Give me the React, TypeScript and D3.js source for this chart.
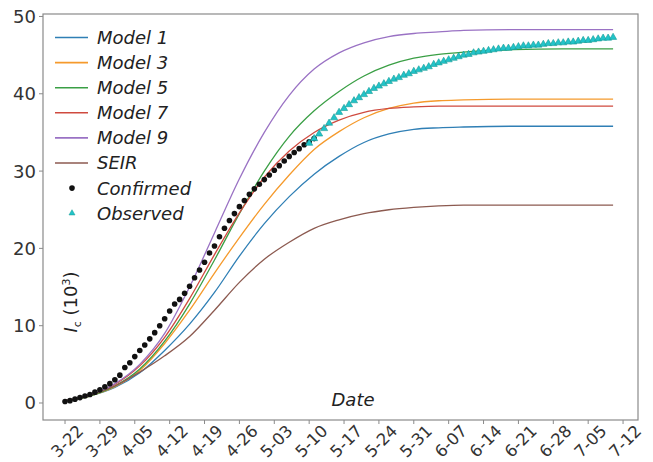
import React from "react";
import * as d3 from "d3";

// sample days (since 3-22) for the model curves
const sampleDays = [0, 5, 10, 15, 20, 25, 30, 35, 40, 45, 50, 55, 60, 65, 70, 75, 80, 90, 100, 110];

const model1 = [0.3, 0.9, 2.0, 3.9, 6.8, 10.2, 14.3, 19.0, 23.2, 26.7, 29.6, 31.9, 33.7, 34.8, 35.4, 35.6, 35.7, 35.8, 35.8, 35.8];
const model3 = [0.3, 0.9, 2.1, 4.2, 7.7, 12.0, 16.8, 21.4, 25.7, 29.5, 32.8, 35.1, 36.9, 38.1, 38.8, 39.1, 39.2, 39.3, 39.3, 39.3];
const model5 = [0.3, 0.9, 2.2, 4.4, 8.0, 12.8, 18.5, 24.5, 30.0, 34.5, 37.8, 40.3, 42.3, 43.7, 44.6, 45.1, 45.4, 45.7, 45.8, 45.8];
const model7 = [0.3, 1.0, 2.4, 4.8, 8.5, 13.5, 19.2, 24.6, 29.2, 32.6, 35.0, 36.6, 37.6, 38.1, 38.3, 38.4, 38.4, 38.4, 38.4, 38.4];
const model9 = [0.3, 1.0, 2.5, 5.0, 9.0, 15.0, 22.0, 29.0, 35.0, 39.8, 43.2, 45.3, 46.6, 47.4, 47.8, 48.0, 48.2, 48.3, 48.3, 48.3];
const seir = [0.3, 1.0, 2.2, 4.0, 6.1, 8.6, 12.0, 15.6, 18.6, 20.8, 22.6, 23.7, 24.5, 25.0, 25.3, 25.5, 25.6, 25.6, 25.6, 25.6];

// confirmed, daily from 3-22
const confirmed = [
  0.2, 0.3, 0.5, 0.7, 0.9, 1.1, 1.4, 1.7, 2.1, 2.5, 3.0, 3.6, 4.6, 5.2, 6.0, 6.8, 7.5, 8.3, 9.1, 10.0,
  10.9, 11.9, 12.8, 13.4, 14.2, 15.1, 16.2, 17.2, 18.2, 19.4, 20.3, 21.5, 22.6, 23.6, 24.5, 25.4, 26.2,
  27.0, 27.7, 28.3, 28.9, 29.5, 30.1, 30.7, 31.3, 31.9, 32.4, 32.9, 33.4, 33.8, 34.2,
];

// observed, daily from day 49
const observedStart = 49;
const observed = [
  33.6, 34.2, 34.8, 35.5, 36.2, 36.9, 37.6, 38.1, 38.6, 39.1, 39.5, 39.9, 40.3, 40.7, 41.0, 41.3, 41.6,
  41.9, 42.1, 42.4, 42.6, 42.9, 43.1, 43.3, 43.5, 43.8, 44.0, 44.2, 44.4, 44.6, 44.8, 45.0, 45.1, 45.3,
  45.4, 45.5, 45.6, 45.7, 45.8, 45.9, 45.9, 46.0, 46.1, 46.2, 46.2, 46.3, 46.3, 46.4, 46.5, 46.5, 46.6,
  46.6, 46.7, 46.7, 46.8, 46.9, 46.9, 47.0, 47.1, 47.2, 47.2, 47.3,
];

const dateLabels = ["3-22", "3-29", "4-05", "4-12", "4-19", "4-26", "5-03", "5-10", "5-17", "5-24", "5-31", "6-07", "6-14", "6-21", "6-28", "7-05", "7-12"];
const yTicks = [0, 10, 20, 30, 40, 50];

const models = [
  { name: "Model 1", values: model1, color: "#2f7fb5" },
  { name: "Model 3", values: model3, color: "#f59a2c" },
  { name: "Model 5", values: model5, color: "#3a9f45" },
  { name: "Model 7", values: model7, color: "#cf4a3f" },
  { name: "Model 9", values: model9, color: "#9a72c4" },
  { name: "SEIR", values: seir, color: "#8c5a50" },
];

const W = 653;
const H = 462;
const left = 43, right = 638, top = 14, bottom = 420;
const font = "'DejaVu Sans', sans-serif";

export default function App() {
  const x = d3.scaleLinear().domain([-4.42, 115]).range([left, right]);
  const y = d3.scaleLinear().domain([-2.2, 50.32]).range([bottom, top]);

  const line = d3
    .line<[number, number]>()
    .x((d) => x(d[0]))
    .y((d) => y(d[1]))
    .curve(d3.curveMonotoneX);

  const tri = d3.symbol().type(d3.symbolTriangle).size(22)();
  const triLegend = d3.symbol().type(d3.symbolTriangle).size(16)();

  return (
    <svg width={W} height={H} style={{ position: "absolute", left: 0, top: 0, background: "#fff" }} fontFamily={font}>
      <rect x={0} y={0} width={W} height={H} fill="#fff" />

      {/* model curves */}
      {models.map((m) => (
        <path
          key={m.name}
          d={line(sampleDays.map((d, i) => [d, m.values[i]]))!}
          fill="none"
          stroke={m.color}
          strokeWidth={1.3}
        />
      ))}

      {/* confirmed */}
      {confirmed.map((v, i) => (
        <circle key={"c" + i} cx={x(i)} cy={y(v)} r={2.8} fill="#111" />
      ))}

      {/* observed */}
      {observed.map((v, i) => (
        <path key={"o" + i} d={tri!} transform={`translate(${x(observedStart + i)},${y(v)})`} fill="#22c3c9" stroke="#179c95" strokeWidth={0.6} />
      ))}

      {/* frame */}
      <rect x={left} y={top} width={right - left} height={bottom - top} fill="none" stroke="#8a8a8a" strokeWidth={1.2} />

      {/* y axis */}
      {yTicks.map((t) => (
        <g key={"y" + t}>
          <line x1={left - 4} x2={left} y1={y(t)} y2={y(t)} stroke="#8a8a8a" />
          <text x={left - 7} y={y(t)} dy="0.36em" textAnchor="end" fontSize={18} fill="#333">
            {t}
          </text>
        </g>
      ))}

      {/* x axis */}
      {dateLabels.map((lab, i) => (
        <g key={"x" + lab}>
          <line x1={x(i * 7)} x2={x(i * 7)} y1={bottom} y2={bottom + 4} stroke="#8a8a8a" />
          <text
            transform={`translate(${x(i * 7) + 2},${bottom + 21}) rotate(-45)`}
            textAnchor="middle"
            dy="0.36em"
            fontSize={16.5}
            fill="#333"
          >
            {lab}
          </text>
        </g>
      ))}

      {/* axis titles */}
      <text x={353} y={406} textAnchor="middle" fontSize={18} fontStyle="italic" fill="#222">
        Date
      </text>
      <text transform={`translate(77,302) rotate(-90)`} textAnchor="middle" fontSize={18} fill="#222">
        <tspan fontStyle="italic">I</tspan>
        <tspan fontSize={11} dy="4">c</tspan>
        <tspan dy="-4"> (10</tspan>
        <tspan fontSize={11} dy="-7">3</tspan>
        <tspan dy="7">)</tspan>
      </text>

      {/* legend */}
      {models.map((m, i) => (
        <g key={"l" + m.name} transform={`translate(0,${37.5 + i * 25.1})`}>
          <line x1={55} x2={88} y1={0} y2={0} stroke={m.color} strokeWidth={1.6} />
          <text x={97} y={0} dy="0.36em" fontSize={18} fontStyle="italic" fill="#222">
            {m.name}
          </text>
        </g>
      ))}
      <g transform={`translate(0,${37.5 + 6 * 25.1})`}>
        <circle cx={72} cy={0} r={2.8} fill="#111" />
        <text x={97} y={0} dy="0.36em" fontSize={18} fontStyle="italic" fill="#222">
          Confirmed
        </text>
      </g>
      <g transform={`translate(0,${37.5 + 7 * 25.1})`}>
        <path d={triLegend!} transform="translate(72,0)" fill="#22c3c9" stroke="#179c95" strokeWidth={0.5} />
        <text x={97} y={0} dy="0.36em" fontSize={18} fontStyle="italic" fill="#222">
          Observed
        </text>
      </g>
    </svg>
  );
}
